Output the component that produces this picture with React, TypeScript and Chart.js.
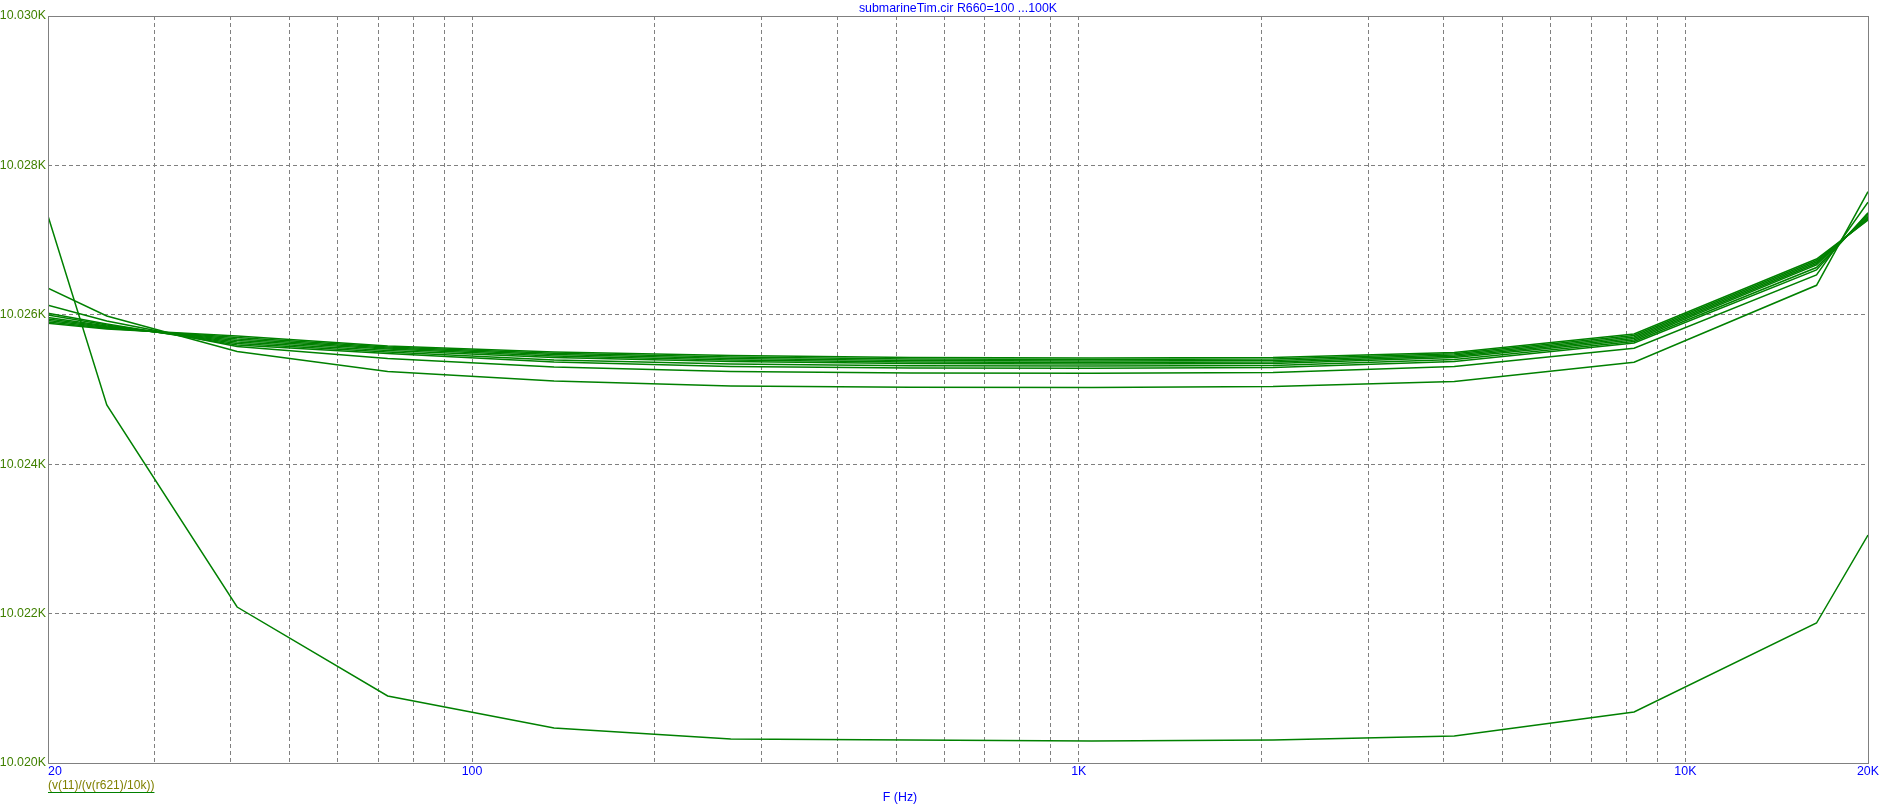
import React, { useEffect, useRef } from "react";
import { Chart, registerables } from "chart.js";

Chart.register(...registerables);

// ---- data ----
const frequencies = [20, 25, 41, 72.6, 136.5, 267, 528, 1050, 2090, 4160, 8230, 16450, 20000];

const curveR100 = [10.027323, 10.024793, 10.022088, 10.020897, 10.020469, 10.020321, 10.020308, 10.020295, 10.020308, 10.020361, 10.020683, 10.021874, 10.023052];
const curveB = [10.026355, 10.025984, 10.025509, 10.025241, 10.025114, 10.025047, 10.025029, 10.025027, 10.02504, 10.025107, 10.025364, 10.026395, 10.027648];
const curveC = [10.026127, 10.025917, 10.025576, 10.025415, 10.025301, 10.025241, 10.025221, 10.025217, 10.025228, 10.025308, 10.025552, 10.026533, 10.027506];
const curveD = [10.02602, 10.025877, 10.025596, 10.025482, 10.025368, 10.025308, 10.025288, 10.025284, 10.025295, 10.025375, 10.025623, 10.0266, 10.027367];
const curveE = [10.025997, 10.025863, 10.025616, 10.025502, 10.025395, 10.025341, 10.025317, 10.025315, 10.025321, 10.025402, 10.025643, 10.026633, 10.02735];
const curveF5 = [10.025964, 10.02585, 10.025636, 10.025522, 10.025428, 10.025375, 10.025348, 10.025341, 10.025348, 10.025428, 10.025663, 10.026667, 10.027329];
const curveF4 = [10.025944, 10.025839, 10.025656, 10.025542, 10.025449, 10.025395, 10.025368, 10.025361, 10.025368, 10.025444, 10.025683, 10.026687, 10.027309];
const curveF3 = [10.025924, 10.02583, 10.025676, 10.025556, 10.025467, 10.025415, 10.025388, 10.025382, 10.025388, 10.025462, 10.025703, 10.026707, 10.027292];
const curveF2 = [10.025904, 10.025821, 10.025696, 10.025569, 10.025485, 10.025435, 10.025408, 10.025402, 10.025408, 10.025478, 10.025723, 10.026727, 10.02728];
const curveF1 = [10.025886, 10.02581, 10.025716, 10.025582, 10.025502, 10.025455, 10.025428, 10.025422, 10.025428, 10.025495, 10.025743, 10.026747, 10.027269];

const curves = [curveR100, curveB, curveC, curveD, curveE, curveF5, curveF4, curveF3, curveF2, curveF1];

const xGridValues = [20, 30, 40, 50, 60, 70, 80, 90, 100, 200, 300, 400, 500, 600, 700, 800, 900, 1000, 2000, 3000, 4000, 5000, 6000, 7000, 8000, 9000, 10000, 20000];
const xTickLabels: Record<number, string> = { 20: "    20", 100: "100", 1000: "1K", 10000: "10K", 20000: "20K" };
const yTickValues = [10.02, 10.022, 10.024, 10.026, 10.028, 10.03];

const titleText = "submarineTim.cir R660=100 ...100K";
const xAxisLabel = "F (Hz)";
const legendLabel = "(v(11)/(v(r621)/10k))";

const FONT = "'Liberation Sans', Arial, sans-serif";
const GRID = "#808080";
const CURVE = "#008000";

const textPlugin = {
  id: "extraText",
  afterDatasetsDraw(chart: any) {
    const { ctx, chartArea: a } = chart;
    ctx.save();
    ctx.strokeStyle = GRID;
    ctx.lineWidth = 1;
    ctx.strokeRect(a.left + 0.5, a.top + 0.5, a.right - a.left, a.bottom - a.top);
    ctx.restore();
  },
  afterDraw(chart: any) {
    const { ctx, chartArea: a } = chart;
    ctx.save();
    ctx.font = `12.4px ${FONT}`;
    ctx.fillStyle = "#0000ff";
    ctx.textAlign = "center";
    ctx.textBaseline = "middle";
    ctx.fillText(xAxisLabel, 900, 798);

    ctx.font = `12px ${FONT}`;
    ctx.fillStyle = "#808000";
    ctx.textAlign = "left";
    ctx.fillText(legendLabel, a.left, 786);
    const w = ctx.measureText(legendLabel).width;
    ctx.strokeStyle = CURVE;
    ctx.lineWidth = 1;
    ctx.beginPath();
    ctx.moveTo(a.left, 792.5);
    ctx.lineTo(a.left + w, 792.5);
    ctx.stroke();
    ctx.restore();
  },
};

export default function App() {
  const ref = useRef<HTMLCanvasElement | null>(null);

  useEffect(() => {
    if (!ref.current) return;
    const datasets = curves.map((c, i) => ({
      label: `curve ${i + 1}`,
      data: frequencies.map((f, j) => ({ x: f, y: c[j] })),
      borderColor: CURVE,
      backgroundColor: CURVE,
      borderWidth: 1.5,
      pointRadius: 0,
      tension: 0,
      fill: false,
    }));
    const chart = new Chart(ref.current, {
      type: "line",
      data: { datasets },
      plugins: [textPlugin],
      options: {
        animation: false,
        responsive: false,
        devicePixelRatio: 1,
        layout: { padding: { left: 0, right: 19, top: 0, bottom: 0 } },
        plugins: {
          legend: { display: false },
          tooltip: { enabled: false },
          title: {
            display: true,
            text: titleText,
            color: "#0000ff",
            fullSize: false,
            font: { family: FONT, size: 12.4, weight: "normal", lineHeight: 15 / 12.4 },
            padding: { top: 1, bottom: 0 },
          },
        },
        scales: {
          x: {
            type: "logarithmic",
            min: 20,
            max: 20000,
            afterBuildTicks: (s: any) => {
              s.ticks = xGridValues.map((v) => ({ value: v }));
            },
            afterFit: (s: any) => {
              s.height = 45;
            },
            ticks: {
              autoSkip: false,
              maxRotation: 0,
              minRotation: 0,
              padding: 1,
              color: "#0000ff",
              font: { family: FONT, size: 12.4 },
              callback: (v: any) => xTickLabels[Number(v)] ?? "",
            },
            grid: {
              drawTicks: false,
              lineWidth: 1,
              color: (c: any) =>
                c.tick && (c.tick.value === 20 || c.tick.value === 20000) ? "rgba(0,0,0,0)" : GRID,
            },
            border: { display: false, dash: [4, 3] },
          },
          y: {
            type: "linear",
            min: 10.02,
            max: 10.03,
            afterBuildTicks: (s: any) => {
              s.ticks = yTickValues.map((v) => ({ value: v }));
            },
            afterFit: (s: any) => {
              s.width = 48;
            },
            ticks: {
              padding: 2,
              color: "#408000",
              font: { family: FONT, size: 12.4 },
              callback: (v: any) => Number(v).toFixed(3) + "K",
            },
            grid: {
              drawTicks: false,
              lineWidth: 1,
              color: (c: any) =>
                c.tick && (c.index === 0 || c.index === yTickValues.length - 1) ? "rgba(0,0,0,0)" : GRID,
            },
            border: { display: false, dash: [4, 3] },
          },
        },
      },
    } as any);
    return () => chart.destroy();
  }, []);

  return (
    <div style={{ position: "fixed", left: 0, top: 0, width: 1887, height: 808, background: "#fff" }}>
      <canvas ref={ref} width={1887} height={808} style={{ display: "block" }} />
    </div>
  );
}
